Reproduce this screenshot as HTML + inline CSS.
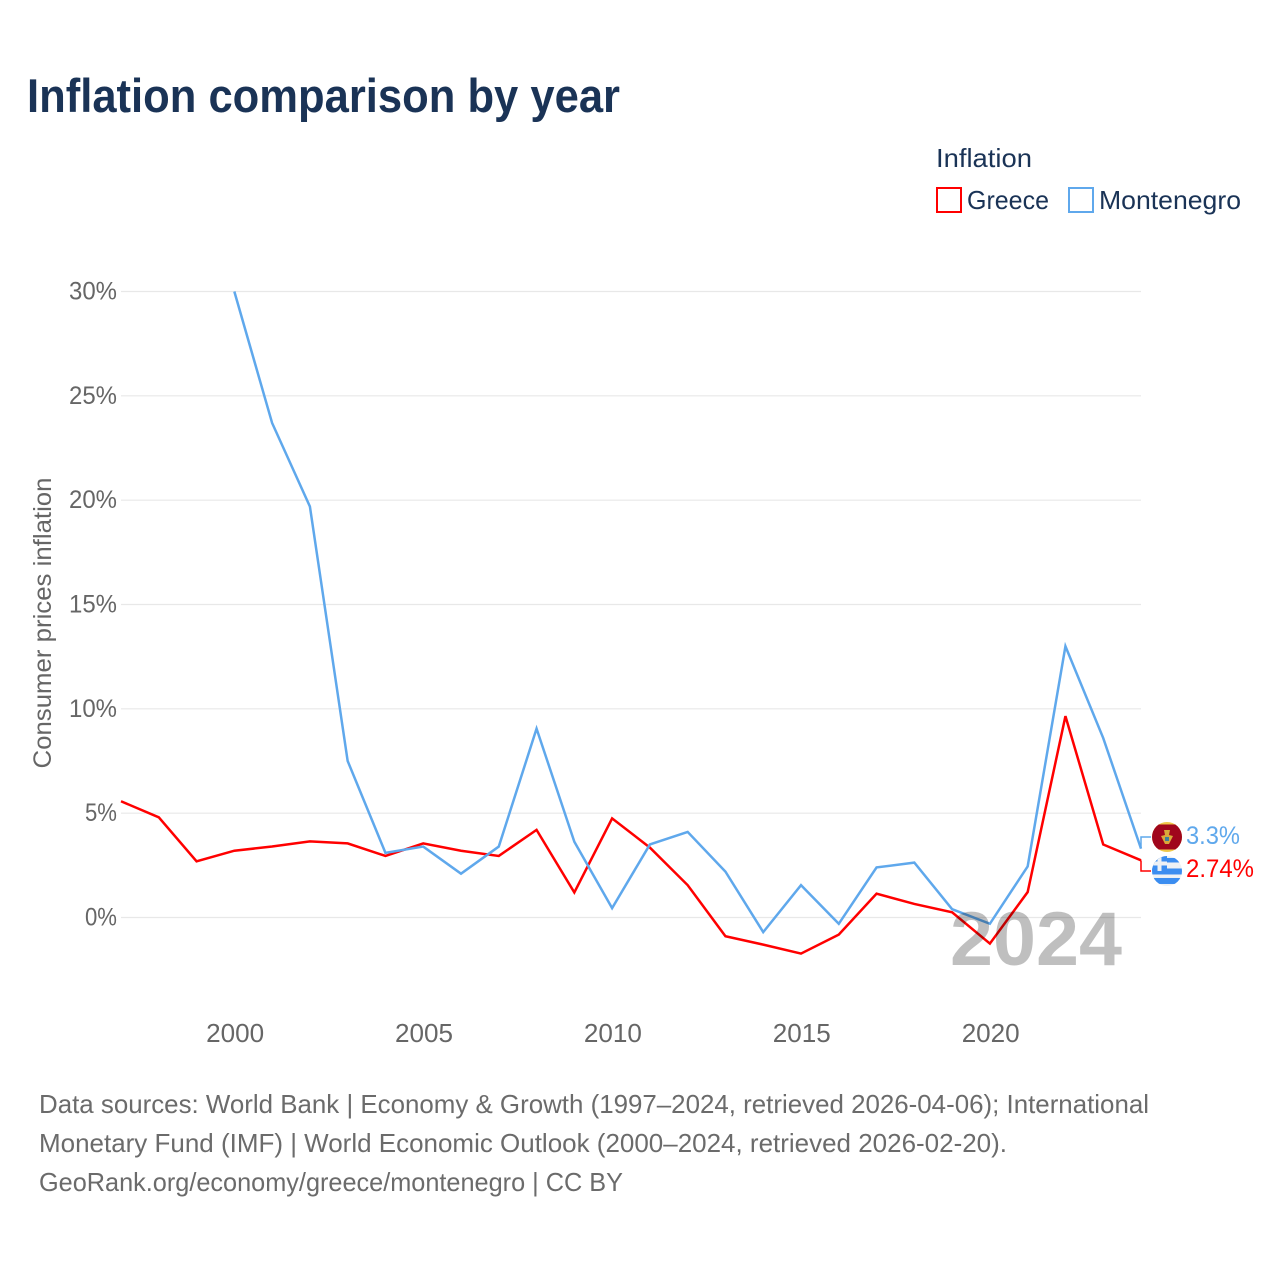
<!DOCTYPE html>
<html lang="en">
<head>
<meta charset="utf-8">
<title>Inflation comparison by year</title>
<style>
html,body{margin:0;padding:0;background:#fff;width:1280px;height:1280px;overflow:hidden}
svg{display:block;font-family:"Liberation Sans",sans-serif}
</style>
</head>
<body>
<svg id="chart" xmlns="http://www.w3.org/2000/svg" width="1280" height="1280" viewBox="0 0 1280 1280">
  <rect width="1280" height="1280" fill="#fff"/>
  <text x="27" y="112" font-size="47" font-weight="700" fill="#1a3356" textLength="593" lengthAdjust="spacingAndGlyphs">Inflation comparison by year</text>

  <g>
    <text x="936" y="167" font-size="26" fill="#1a3356" textLength="96" lengthAdjust="spacingAndGlyphs">Inflation</text>
    <rect x="937" y="188" width="24" height="24" fill="#fff" stroke="#ff0000" stroke-width="2"/>
    <text x="967" y="209" font-size="26" fill="#1a3356" textLength="82" lengthAdjust="spacingAndGlyphs">Greece</text>
    <rect x="1069" y="188" width="24" height="24" fill="#fff" stroke="#5fa8ec" stroke-width="2"/>
    <text x="1099" y="209" font-size="26" fill="#1a3356" textLength="142" lengthAdjust="spacingAndGlyphs">Montenegro</text>
  </g>

  <text transform="translate(51,623) rotate(-90)" text-anchor="middle" font-size="25" fill="#666" textLength="291" lengthAdjust="spacingAndGlyphs">Consumer prices inflation</text>

  <g id="grid"></g>
  <g id="yticks"></g>
  <g id="xticks"></g>
  <g id="lines"></g>

  <text x="1122" y="965" text-anchor="end" font-size="76" font-weight="700" fill="#000" fill-opacity="0.25" textLength="172" lengthAdjust="spacingAndGlyphs">2024</text>

  <g id="endmarks"></g>

  <defs>
    <clipPath id="flag-me-clip"><circle cx="0" cy="0" r="15"/></clipPath>
    <clipPath id="flag-gr-clip"><circle cx="0" cy="0" r="15"/></clipPath>
  </defs>

  <g font-size="26" fill="#6b6b6b">
    <text x="39" y="1113" textLength="1110" lengthAdjust="spacingAndGlyphs">Data sources: World Bank | Economy &amp; Growth (1997–2024, retrieved 2026-04-06); International</text>
    <text x="39" y="1152" textLength="968" lengthAdjust="spacingAndGlyphs">Monetary Fund (IMF) | World Economic Outlook (2000–2024, retrieved 2026-02-20).</text>
    <text x="39" y="1191" textLength="584" lengthAdjust="spacingAndGlyphs">GeoRank.org/economy/greece/montenegro | CC BY</text>
  </g>
</svg>
<script>
const greeceYears = [1997,1998,1999,2000,2001,2002,2003,2004,2005,2006,2007,2008,2009,2010,2011,2012,2013,2014,2015,2016,2017,2018,2019,2020,2021,2022,2023,2024];
const greeceValues = [5.57,4.8,2.69,3.2,3.4,3.65,3.55,2.95,3.55,3.2,2.95,4.2,1.2,4.75,3.35,1.55,-0.9,-1.3,-1.73,-0.82,1.14,0.65,0.25,-1.25,1.22,9.65,3.5,2.74];
const montenegroYears = [2000,2001,2002,2003,2004,2005,2006,2007,2008,2009,2010,2011,2012,2013,2014,2015,2016,2017,2018,2019,2020,2021,2022,2023,2024];
const montenegroValues = [30,23.7,19.7,7.5,3.1,3.4,2.1,3.4,9.05,3.63,0.45,3.5,4.1,2.2,-0.7,1.55,-0.3,2.4,2.63,0.4,-0.3,2.45,13,8.6,3.3];
const yTickValues = [0,5,10,15,20,25,30];
const xTickValues = [2000,2005,2010,2015,2020];
const greeceEndLabel = "2.74%";
const montenegroEndLabel = "3.3%";

const NS = "http://www.w3.org/2000/svg";
const xScale = year => 121 + (year - 1997) * (1141 - 121) / (2024 - 1997);
const yScale = value => 917.5 - value * (917.5 - 291.5) / 30;

function make(tag, attrs, parent, text) {
  const el = document.createElementNS(NS, tag);
  for (const k in attrs) el.setAttribute(k, attrs[k]);
  if (text !== undefined) el.textContent = text;
  parent.appendChild(el);
  return el;
}

const grid = document.getElementById("grid");
const yticks = document.getElementById("yticks");
const xticks = document.getElementById("xticks");
const lines = document.getElementById("lines");
const endmarks = document.getElementById("endmarks");

yTickValues.forEach(v => {
  const line = make("line", {x1: 121, x2: 1141, y1: yScale(v), y2: yScale(v), stroke: "#e8e8e8", "stroke-width": 1.2}, grid);
  
  
  const label = v + "%";
  const t = make("text", {x: 117, y: yScale(v) + 8, "text-anchor": "end", "font-size": 25, fill: "#666", textLength: 16 * label.length, lengthAdjust: "spacingAndGlyphs"}, yticks, label);
  
  
});

xTickValues.forEach(v => {
  const t = make("text", {x: xScale(v) + 0.8, y: 1042, "text-anchor": "middle", "font-size": 26, fill: "#666", textLength: 58, lengthAdjust: "spacingAndGlyphs"}, xticks, String(v));
  
  
});

function linePoints(years, values) {
  return years.map((y, i) => xScale(y).toFixed(2) + "," + yScale(values[i]).toFixed(2)).join(" ");
}

const greeceLine = make("polyline", {points: linePoints(greeceYears, greeceValues), fill: "none", stroke: "#ff0000", "stroke-width": 2.5, "stroke-linejoin": "miter"}, lines);


const montenegroLine = make("polyline", {points: linePoints(montenegroYears, montenegroValues), fill: "none", stroke: "#5fa8ec", "stroke-width": 2.5, "stroke-linejoin": "miter"}, lines);



const greeceEndY = yScale(greeceValues[greeceValues.length - 1]);
const montenegroEndY = yScale(montenegroValues[montenegroValues.length - 1]);
const midY = (greeceEndY + montenegroEndY) / 2;
const montenegroFlagY = midY - 17.5;
const greeceFlagY = midY + 16.5;

const leaderM = make("polyline", {points: "1141," + montenegroEndY + " 1141," + montenegroFlagY + " 1151," + montenegroFlagY, fill: "none", stroke: "#5fa8ec", "stroke-width": 1.5}, endmarks);


const leaderG = make("polyline", {points: "1141," + greeceEndY + " 1141," + greeceFlagY + " 1151," + greeceFlagY, fill: "none", stroke: "#ff0000", "stroke-width": 1.5}, endmarks);



/* Montenegro flag */
const flagM = make("g", {transform: "translate(1167," + montenegroFlagY + ")", "clip-path": "url(#flag-me-clip)"}, endmarks);


make("rect", {x: -15, y: -15, width: 30, height: 30, fill: "#efc84a"}, flagM);
make("rect", {x: -15, y: -12.5, width: 30, height: 25, fill: "#a0061c"}, flagM);
make("path", {d: "M-6,-1 L-2,-2 L-3,-7 L3,-7 L2,-2 L6,-1 L4,3 L2,7 L-2,7 L-4,3 Z", fill: "#d9a93a"}, flagM);
make("rect", {x: -2, y: 0, width: 4, height: 4, fill: "#3f7f9a"}, flagM);

/* Greece flag */
const flagG = make("g", {transform: "translate(1167," + greeceFlagY + ")", "clip-path": "url(#flag-gr-clip)"}, endmarks);


make("rect", {x: -15, y: -15, width: 30, height: 30, fill: "#eef1f4"}, flagG);
make("rect", {x: -15, y: -13, width: 30, height: 4.5, fill: "#3b8df0"}, flagG);
make("rect", {x: -15, y: -2.5, width: 30, height: 6, fill: "#3b8df0"}, flagG);
make("rect", {x: -15, y: 7, width: 30, height: 6, fill: "#3b8df0"}, flagG);
make("rect", {x: -15, y: -15, width: 15, height: 15, fill: "#3b8df0"}, flagG);
make("rect", {x: -9.5, y: -15, width: 4, height: 15, fill: "#eef1f4"}, flagG);
make("rect", {x: -15, y: -9.5, width: 15, height: 4, fill: "#eef1f4"}, flagG);

const labelM = make("text", {x: 1186, y: montenegroFlagY + 7, "font-size": 25, fill: "#5fa8ec", textLength: 54, lengthAdjust: "spacingAndGlyphs"}, endmarks, montenegroEndLabel);


const labelG = make("text", {x: 1186, y: greeceFlagY + 6, "font-size": 25, fill: "#ff0000", textLength: 68, lengthAdjust: "spacingAndGlyphs"}, endmarks, greeceEndLabel);


</script>
</body>
</html>
